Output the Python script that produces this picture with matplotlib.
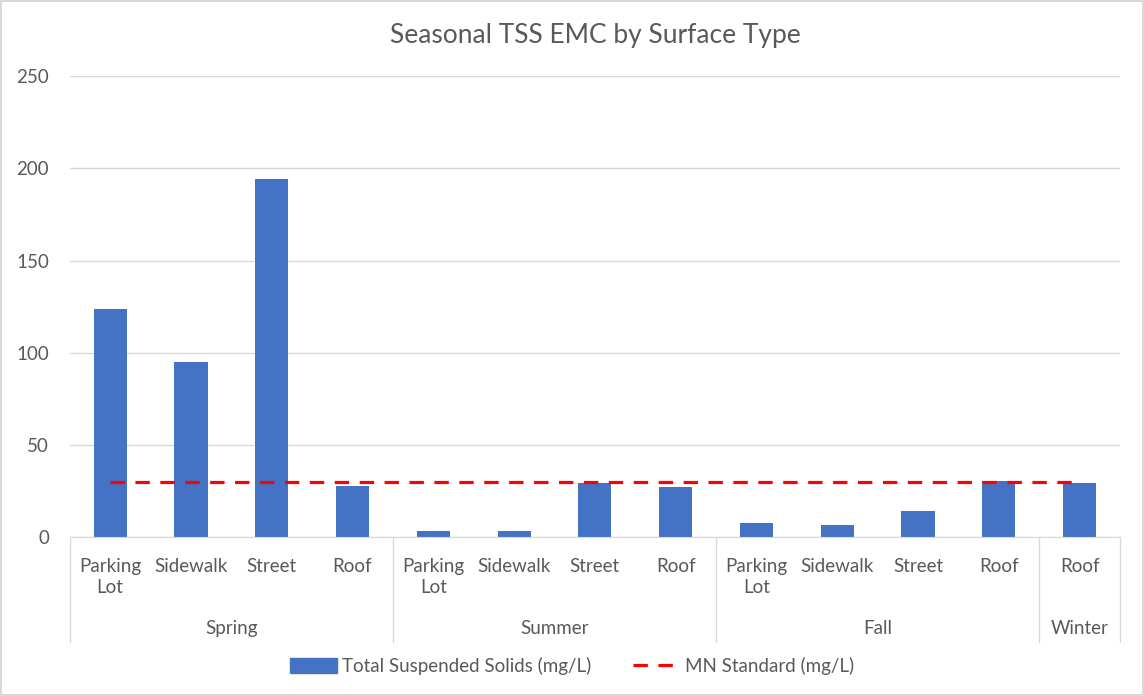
import matplotlib.pyplot as plt
from matplotlib.lines import Line2D
from matplotlib.patches import Patch

# data
surfaces = ['Parking\nLot', 'Sidewalk', 'Street', 'Roof',
            'Parking\nLot', 'Sidewalk', 'Street', 'Roof',
            'Parking\nLot', 'Sidewalk', 'Street', 'Roof',
            'Roof']
seasons = ['Spring', 'Summer', 'Fall', 'Winter']
season_sizes = [4, 4, 4, 1]
tss = [124, 95, 194, 28, 3.3, 3.3, 29.5, 27.5, 7.5, 6.5, 14.5, 30.5, 29.5]
mn_standard = [30, 30, 30, 30, 30, 30, 30, 30, 30, 30, 30, 30, 30]

plt.rcParams['font.family'] = ['Lato', 'DejaVu Sans']
grey = '#595959'
linec = '#d9d9d9'

fig = plt.figure(figsize=(11.44, 6.96), dpi=100, edgecolor=linec, linewidth=1.5)
ax = fig.add_axes([0.061, 0.228, 0.918, 0.6625])

x = list(range(len(tss)))
ax.bar(x, tss, width=0.41, color='#4472C4', zorder=2)
ax.plot(x, mn_standard, color='#FF0000', lw=2.3, dashes=(4.5, 3.3), zorder=3)

ax.set_xlim(-0.5, len(tss) - 0.5)
ax.set_ylim(0, 250)
ax.set_yticks([0, 50, 100, 150, 200, 250])
ax.grid(axis='y', color=linec, lw=1, zorder=0)
for s in ['top', 'right', 'left']:
    ax.spines[s].set_visible(False)
ax.spines['bottom'].set_color(linec)
ax.tick_params(axis='y', length=0, labelsize=13.5, labelcolor=grey, pad=15)
ax.tick_params(axis='x', length=0, labelsize=13.5, labelcolor=grey, pad=15)
ax.set_xticks(x)
ax.set_xticklabels(surfaces, linespacing=1.3)

# season level of the category axis
tr = ax.get_xaxis_transform()
start = -0.5
ax.plot([start, start], [0, -0.228], transform=tr, color=linec, lw=1, clip_on=False)
for name, n in zip(seasons, season_sizes):
    end = start + n
    ax.plot([end, end], [0, -0.228], transform=tr, color=linec, lw=1, clip_on=False)
    ax.text((start + end) / 2, -0.197, name, transform=tr, ha='center', va='center',
            fontsize=13.5, color=grey)
    start = end

ax.set_title('Seasonal TSS EMC by Surface Type', fontsize=19, color=grey, pad=24)

handles = [Patch(color='#4472C4'),
           Line2D([0], [0], color='#FF0000', lw=2.3, dashes=(4.5, 3.3))]
fig.legend(handles, ['Total Suspended Solids (mg/L)', 'MN Standard (mg/L)'],
           loc='center', bbox_to_anchor=(0.5, 0.043), ncol=2, frameon=False,
           fontsize=13.5, labelcolor=grey, handlelength=2.5, handleheight=0.8,
           columnspacing=2.2, handletextpad=0.3)

fig.savefig('out.png', dpi=100)
